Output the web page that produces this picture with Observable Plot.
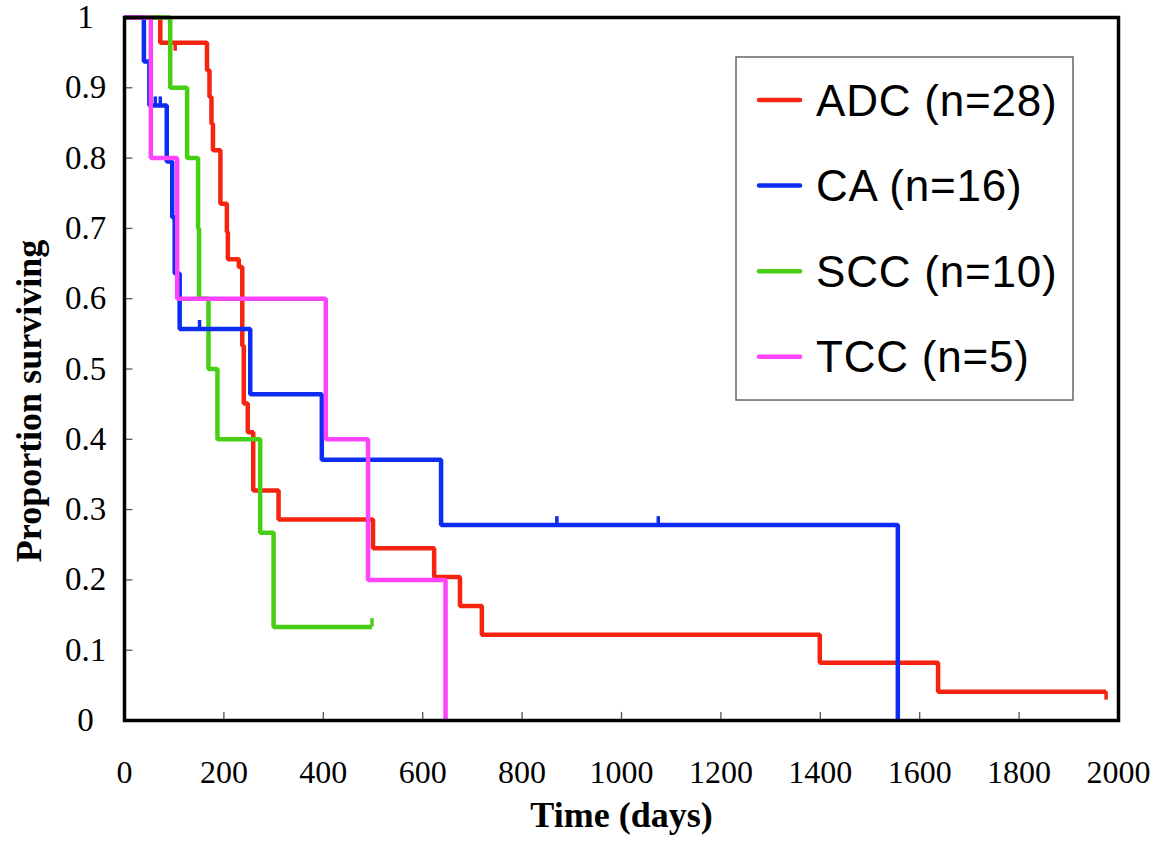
<!DOCTYPE html>
<html>
<head>
<meta charset="utf-8">
<script src="https://cdn.jsdelivr.net/npm/d3@7"></script>
<script src="https://cdn.jsdelivr.net/npm/@observablehq/plot@0.6"></script>
<style>
  html, body { margin: 0; padding: 0; background: #fff; }
  #chart { width: 1162px; height: 841px; }
</style>
</head>
<body>
<div id="chart"></div>
<script>
// ---- data ----
const adcTimes = [0, 72, 166, 171, 175, 178, 193, 206, 208, 230, 237, 240, 248, 259, 310, 500, 623, 675, 719, 1399, 1637, 1975];
const adcSurv  = [1, 0.964, 0.925, 0.887, 0.849, 0.811, 0.735, 0.695, 0.656, 0.645, 0.533, 0.451, 0.41, 0.327, 0.286, 0.245, 0.204, 0.163, 0.122, 0.082, 0.041, 0.041];

const caTimes = [0, 39, 50, 85, 96, 101, 111, 253, 397, 637, 1556];
const caSurv  = [1, 0.9375, 0.875, 0.795, 0.716, 0.636, 0.557, 0.464, 0.371, 0.278, 0];

const sccTimes = [0, 92, 126, 148, 150, 169, 187, 273, 300, 498];
const sccSurv  = [1, 0.9, 0.8, 0.7, 0.6, 0.5, 0.4, 0.267, 0.133, 0.133];

const tccTimes = [0, 53, 106, 405, 490, 646];
const tccSurv  = [1, 0.8, 0.6, 0.4, 0.2, 0];

// censoring marks: group, time, survival, direction of the tick (+1 up, -1 down)
const censorGroup = ["ADC", "ADC", "CA", "CA", "CA", "CA", "CA", "SCC"];
const censorTime  = [102, 1975, 62, 72, 151, 870, 1074, 498];
const censorSurv  = [0.964, 0.041, 0.875, 0.875, 0.557, 0.278, 0.278, 0.133];
const censorDir   = [-1, -1, 1, 1, 1, 1, 1, 1];

const groups = ["ADC", "SCC", "CA", "TCC"]; // drawing order
const legendNames = ["ADC (n=28)", "CA (n=16)", "SCC (n=10)", "TCC (n=5)"];
const legendKeys = ["ADC", "CA", "SCC", "TCC"];
const colors = {ADC: "#f5230f", CA: "#0c2cf2", SCC: "#46cf14", TCC: "#fd43fb"};

const xTicks = [0, 200, 400, 600, 800, 1000, 1200, 1400, 1600, 1800, 2000];
const yTicks = [0, 0.1, 0.2, 0.3, 0.4, 0.5, 0.6, 0.7, 0.8, 0.9, 1];
const xTitle = "Time (days)";
const yTitle = "Proportion surviving";

// ---- build tables ----
const series = {
  ADC: adcTimes.map((t, i) => ({group: "ADC", t, s: adcSurv[i]})),
  CA: caTimes.map((t, i) => ({group: "CA", t, s: caSurv[i]})),
  SCC: sccTimes.map((t, i) => ({group: "SCC", t, s: sccSurv[i]})),
  TCC: tccTimes.map((t, i) => ({group: "TCC", t, s: tccSurv[i]}))
};
const censors = censorTime.map((t, i) => ({group: censorGroup[i], t, s: censorSurv[i], dir: censorDir[i]}));

const serif = "'Liberation Serif', 'Times New Roman', serif";
const sans = "'Liberation Sans', Arial, sans-serif";

const lineMarks = groups.flatMap(g => [
  Plot.line(series[g], {x: "t", y: "s", curve: "step-after", stroke: colors[g], strokeWidth: 4.5, strokeLinejoin: "miter", strokeLinecap: "butt"}),
  Plot.ruleX(censors.filter(c => c.group === g), {x: "t", y1: "s", y2: d => d.s + d.dir * 0.012, stroke: colors[g], strokeWidth: 3.5})
]);

const chart = Plot.plot({
  width: 1162,
  height: 841,
  marginLeft: 124,
  marginRight: 44,
  marginTop: 17,
  marginBottom: 121,
  x: {domain: [0, 2000]},
  y: {domain: [0, 1]},
  style: {fontFamily: serif, fontSize: "32px", background: "#fff", color: "#000"},
  marks: [
    Plot.ruleX(xTicks.slice(1, -1), {x: d => d, y1: 0, y2: 0.0115, stroke: "#555", strokeWidth: 1.3}),
    Plot.ruleY(yTicks.slice(1, -1), {y: d => d, x1: 0, x2: 17, stroke: "#555", strokeWidth: 1.3}),
    Plot.axisX({ticks: xTicks, tickSize: 0, tickPadding: 40, tickFormat: d => String(d), fontSize: 32, label: null}),
    Plot.axisY({ticks: yTicks, tickSize: 0, tickPadding: 39, textAnchor: "middle", tickFormat: d => String(d), fontSize: 33, label: null}),
    ...lineMarks,
    Plot.frame({stroke: "#000", strokeWidth: 3.5}),
    Plot.text([xTitle], {text: d => d, frameAnchor: "bottom", lineAnchor: "middle", textAnchor: "middle", dy: 95, fontSize: 36, fontWeight: "bold", fontFamily: serif}),
    Plot.text([yTitle], {text: d => d, frameAnchor: "left", lineAnchor: "middle", textAnchor: "middle", rotate: -90, dx: -95, dy: 32, fontSize: 36, fontWeight: "bold", fontFamily: serif})
  ]
});

document.getElementById("chart").appendChild(chart);

// ---- legend (drawn into the same svg) ----
const svg = d3.select(chart);
const lg = svg.append("g").attr("class", "legend").attr("text-anchor", "start");
lg.append("rect")
  .attr("x", 736).attr("y", 57).attr("width", 337).attr("height", 343)
  .attr("fill", "#fff").attr("stroke", "#666").attr("stroke-width", 1.5);
legendKeys.forEach((k, i) => {
  const cy = 100 + i * 85.6;
  lg.append("line")
    .attr("x1", 759).attr("x2", 800).attr("y1", cy).attr("y2", cy)
    .attr("stroke", colors[k]).attr("stroke-width", 4.5).attr("stroke-linecap", "round");
  lg.append("text")
    .attr("x", 816).attr("y", cy + 15.5)
    .attr("text-anchor", "start")
    .attr("font-family", sans).attr("font-size", 44).attr("letter-spacing", "0.8px")
    .attr("fill", "#000")
    .text(legendNames[i]);
});
</script>
</body>
</html>
